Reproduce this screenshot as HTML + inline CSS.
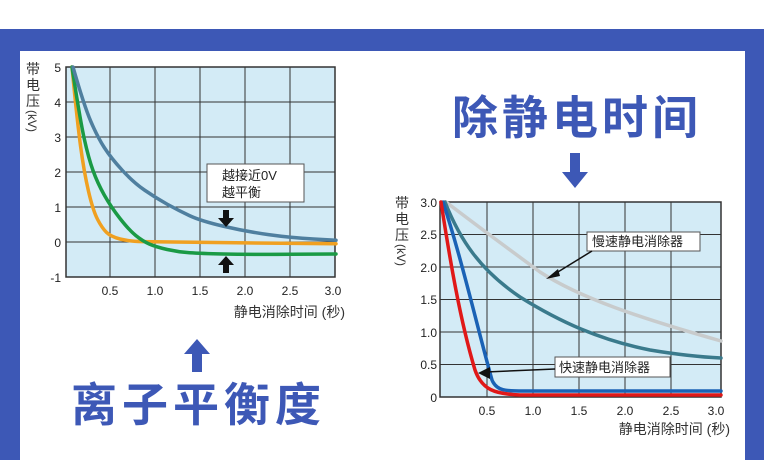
<!DOCTYPE html>
<html><head><meta charset="utf-8"><style>
html,body{margin:0;padding:0;background:#fff;}
svg{display:block;}
text{font-family:"Liberation Sans","Noto Sans CJK SC",sans-serif;}
</style></head><body>
<svg width="764" height="460" viewBox="0 0 764 460" xmlns="http://www.w3.org/2000/svg">
<rect x="0" y="0" width="764" height="460" fill="#fff"/>
<rect x="0" y="29" width="764" height="431" fill="#3d58b6"/>
<rect x="20" y="51" width="725" height="409" fill="#fff"/>

<!-- LEFT CHART -->
<rect x="66" y="67" width="269" height="210" fill="#d3ebf6"/>
<g stroke="#333" stroke-width="1">
<line x1="110" y1="67" x2="110" y2="277"/><line x1="155" y1="67" x2="155" y2="277"/>
<line x1="200" y1="67" x2="200" y2="277"/><line x1="245" y1="67" x2="245" y2="277"/>
<line x1="290" y1="67" x2="290" y2="277"/>
<line x1="66" y1="102" x2="335" y2="102"/><line x1="66" y1="137" x2="335" y2="137"/>
<line x1="66" y1="172" x2="335" y2="172"/><line x1="66" y1="207" x2="335" y2="207"/>
<line x1="66" y1="242" x2="335" y2="242"/>
</g>
<rect x="66" y="67" width="269" height="210" fill="none" stroke="#333" stroke-width="1.5"/>
<g font-size="12" fill="#222" text-anchor="end">
<text x="61" y="72">5</text><text x="61" y="107">4</text><text x="61" y="142">3</text>
<text x="61" y="177">2</text><text x="61" y="212">1</text><text x="61" y="247">0</text><text x="61" y="282">-1</text>
</g>
<g font-size="12" fill="#222" text-anchor="middle">
<text x="110" y="295">0.5</text><text x="155" y="295">1.0</text><text x="200" y="295">1.5</text>
<text x="245" y="295">2.0</text><text x="290" y="295">2.5</text><text x="333" y="295">3.0</text>
</g>
<text x="345" y="317" font-size="14" fill="#333" text-anchor="end">静电消除时间 (秒)</text>
<g font-size="14" fill="#333" text-anchor="middle">
<text x="33" y="74">带</text><text x="33" y="90">电</text><text x="33" y="106">压</text>
</g>
<text x="0" y="0" font-size="12" fill="#333" transform="translate(28,110) rotate(90)">(kV)</text>
<g fill="none" stroke-width="3.5" stroke-linecap="round" stroke-linejoin="round">
<path d="M72,67 Q77,119.5 80.5,145.75 Q84,172 88.5,191.25 Q93,210.5 97.5,219.25 Q102,228 106.5,232.4 Q111,236.75 120,239 Q129,241.3 142.5,241.65 Q156,242 246,242.9 L336,243.75" stroke="#f0a020"/>
<path d="M72,67 Q80,119.5 84.25,138.75 Q88.5,158 93,170.5 Q97.5,183 104.25,195 Q111,207 120,218.5 Q129,230 135.75,235.5 Q142.5,241 149.25,244 Q156,247 167.25,249.5 Q178.5,252 189.75,252.75 Q201,253.5 223.5,254 Q246,254.5 291,254.25 L336,254" stroke="#1a9a45"/>
<path d="M73,67 Q84,105.5 90.75,121.25 Q97.5,137 104.25,147.5 Q111,158 122.25,170.25 Q133.5,182.5 144.75,190.25 Q156,198 167.25,204.25 Q178.5,210.5 189.75,215.75 Q201,221 223.5,226.25 Q246,231.5 268.5,234.65 Q291,237.8 313.5,239 L336,240.25" stroke="#4f7f9f"/>
</g>
<rect x="207" y="164" width="97" height="38" fill="#fff" stroke="#555" stroke-width="1"/>
<text x="222" y="180" font-size="13" fill="#222">越接近0V</text>
<text x="222" y="197" font-size="13" fill="#222">越平衡</text>
<path d="M223,210 h6 v8 h5 l-8,9 l-8,-9 h5 z" fill="#111"/>
<path d="M223,273 h6 v-8 h5 l-8,-9 l-8,9 h5 z" fill="#111"/>

<text x="71" y="421" font-size="46" font-weight="bold" fill="#3d58b6" letter-spacing="5">离子平衡度</text>
<path d="M192,372 h10 v-18 h8 l-13,-15 l-13,15 h8 z" fill="#3d58b6"/>

<!-- RIGHT CHART -->
<text x="452" y="134" font-size="46" font-weight="bold" fill="#3d58b6" letter-spacing="4">除静电时间</text>
<path d="M570,153 h10 v19 h8 l-13,16 l-13,-16 h8 z" fill="#3d58b6"/>

<rect x="440" y="202" width="281" height="195" fill="#d3ebf6"/>
<g stroke="#333" stroke-width="1">
<line x1="487" y1="202" x2="487" y2="397"/><line x1="533" y1="202" x2="533" y2="397"/>
<line x1="579" y1="202" x2="579" y2="397"/><line x1="625" y1="202" x2="625" y2="397"/>
<line x1="671" y1="202" x2="671" y2="397"/>
<line x1="440" y1="234.5" x2="721" y2="234.5"/><line x1="440" y1="267" x2="721" y2="267"/>
<line x1="440" y1="299.5" x2="721" y2="299.5"/><line x1="440" y1="332" x2="721" y2="332"/>
<line x1="440" y1="364.5" x2="721" y2="364.5"/>
</g>
<rect x="440" y="202" width="281" height="195" fill="none" stroke="#333" stroke-width="1.5"/>
<g font-size="12" fill="#222" text-anchor="end">
<text x="437" y="207">3.0</text><text x="437" y="239">2.5</text><text x="437" y="272">2.0</text>
<text x="437" y="304">1.5</text><text x="437" y="337">1.0</text><text x="437" y="369">0.5</text><text x="437" y="402">0</text>
</g>
<g font-size="12" fill="#222" text-anchor="middle">
<text x="487" y="415">0.5</text><text x="533" y="415">1.0</text><text x="579" y="415">1.5</text>
<text x="625" y="415">2.0</text><text x="671" y="415">2.5</text><text x="716" y="415">3.0</text>
</g>
<text x="730" y="434" font-size="14" fill="#333" text-anchor="end">静电消除时间 (秒)</text>
<g font-size="14" fill="#333" text-anchor="middle">
<text x="402" y="208">带</text><text x="402" y="224">电</text><text x="402" y="240">压</text>
</g>
<text x="0" y="0" font-size="12" fill="#333" transform="translate(397,244) rotate(90)">(kV)</text>
<g fill="none" stroke-width="3.5" stroke-linecap="round">
<path d="M446,202 C480,228 510,250 540,272 C580,298 640,318 721,341" stroke="#c8cbcc"/>
<path d="M445,202 C460,240 480,270 520,297 C560,322 600,340 650,350 C680,355 700,357 721,358" stroke="#3a7a8c"/>
<path d="M443,202 C462,260 478,330 492,380 C497,392 507,391 530,391 L721,391" stroke="#1a62b5"/>
<path d="M441,202 C450,260 460,320 475,370 C482,390 495,394 520,395 L721,395" stroke="#e01818"/>
</g>
<rect x="587" y="232" width="113" height="19" fill="#fff" stroke="#555" stroke-width="1"/>
<text x="592" y="246" font-size="13" fill="#222">慢速静电消除器</text>
<line x1="592" y1="251" x2="553" y2="275" stroke="#111" stroke-width="1.5"/>
<path d="M546,279 l12,-10 l2,7 z" fill="#111"/>
<rect x="555" y="357" width="115" height="20" fill="#fff" stroke="#555" stroke-width="1"/>
<text x="559" y="372" font-size="13" fill="#222">快速静电消除器</text>
<line x1="555" y1="369" x2="486" y2="372" stroke="#111" stroke-width="1.5"/>
<path d="M478,373 l12,-6 l0,12 z" fill="#111"/>
</svg>
</body></html>
